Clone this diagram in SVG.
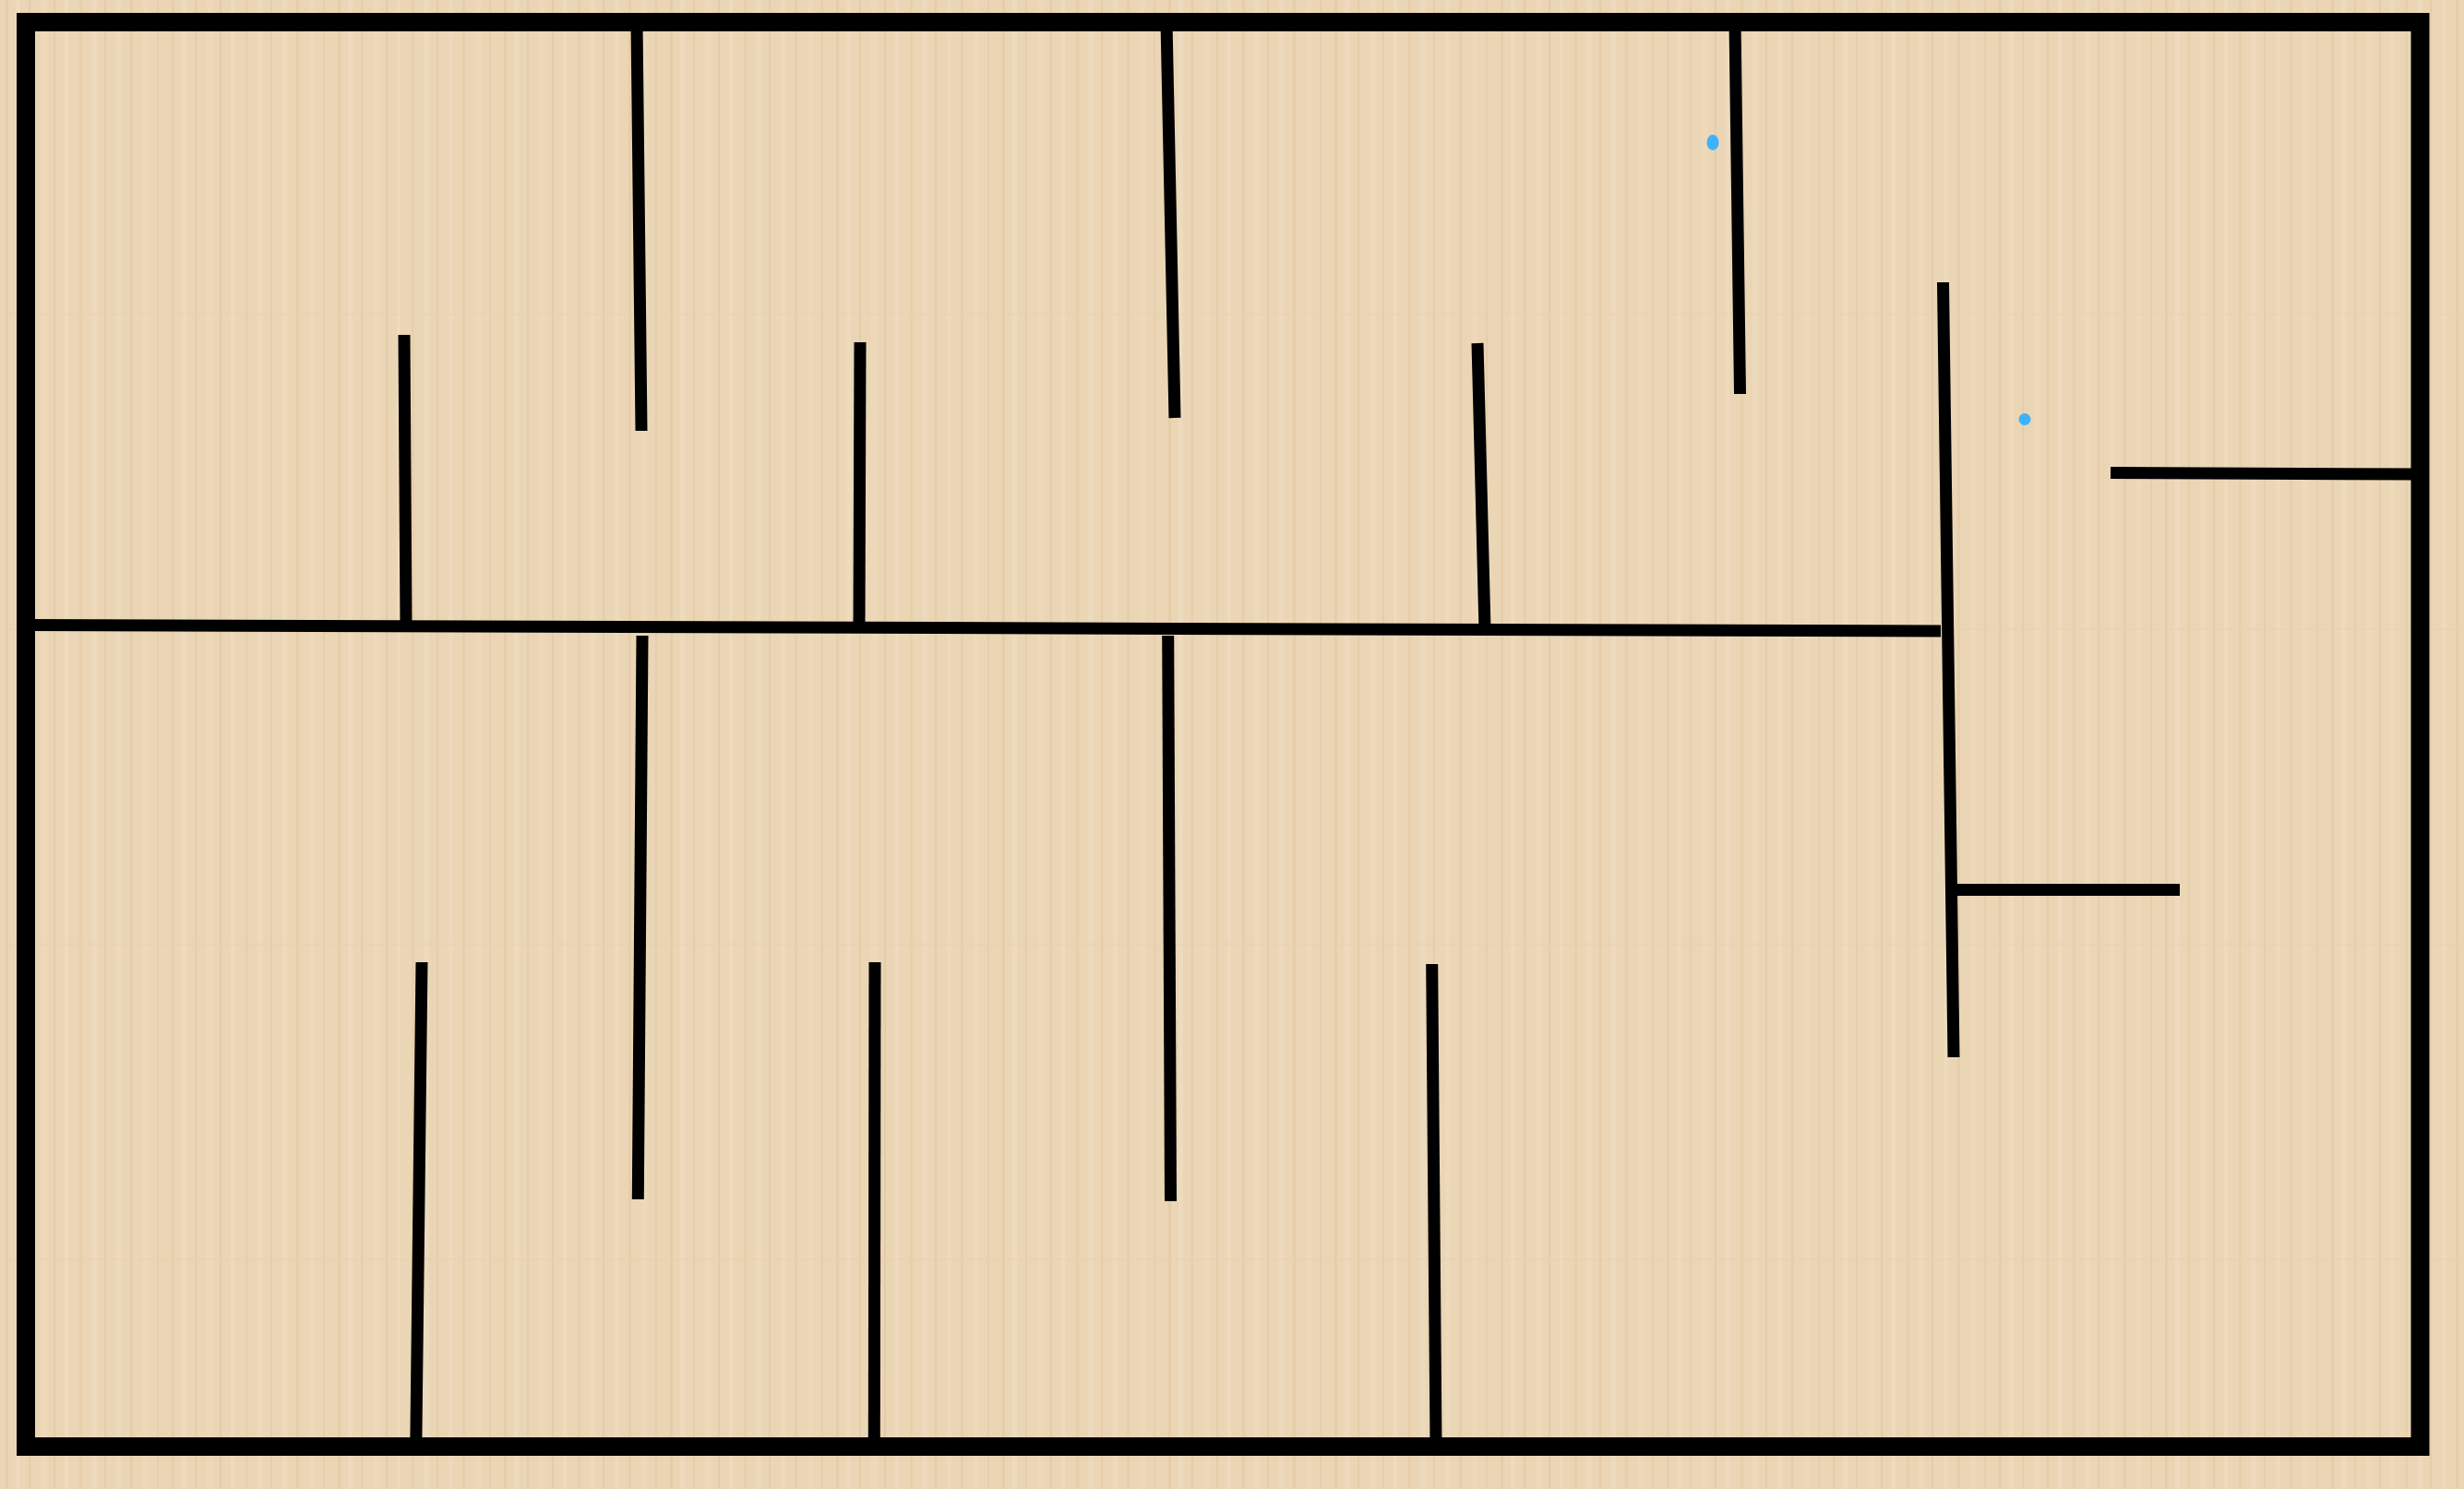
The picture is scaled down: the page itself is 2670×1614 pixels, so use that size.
<svg xmlns="http://www.w3.org/2000/svg" width="2670" height="1614" viewBox="0 0 2670 1614">
  <defs>
    <pattern id="wood" x="0" y="0" width="180" height="341.5" patternUnits="userSpaceOnUse">
      <rect width="180" height="341.5" fill="#EAD5B5"/>
      <rect x="6" width="3" height="341.5" fill="#E4CBA6" opacity="0.7"/>
      <rect x="17" width="5" height="341.5" fill="#F0DFC4" opacity="0.6"/>
      <rect x="31" width="2" height="341.5" fill="#E2C8A2" opacity="0.6"/>
      <rect x="44" width="7" height="341.5" fill="#EEDABD" opacity="0.6"/>
      <rect x="58" width="2" height="341.5" fill="#E3C9A3" opacity="0.7"/>
      <rect x="70" width="4" height="341.5" fill="#F1E0C6" opacity="0.5"/>
      <rect x="86" width="3" height="341.5" fill="#E4CBA6" opacity="0.6"/>
      <rect x="99" width="6" height="341.5" fill="#EFDCC0" opacity="0.6"/>
      <rect x="113" width="2" height="341.5" fill="#E2C7A1" opacity="0.6"/>
      <rect x="126" width="5" height="341.5" fill="#F0DEC3" opacity="0.5"/>
      <rect x="141" width="3" height="341.5" fill="#E5CCA7" opacity="0.7"/>
      <rect x="155" width="6" height="341.5" fill="#EEDABD" opacity="0.6"/>
      <rect x="170" width="2" height="341.5" fill="#E3C9A3" opacity="0.6"/>
      <rect x="0" y="339.5" width="180" height="2" fill="#E6CFAD" opacity="0.5"/>
    </pattern>
    <style>
      .wall { stroke: #000000; stroke-width: 13; stroke-linecap: butt; fill: none; }
      .frame { stroke: #000000; stroke-width: 20; fill: none; }
      .dot { fill: #3DB2FF; }
    </style>
  </defs>

  <rect id="background" x="0" y="0" width="2670" height="1614" fill="url(#wood)"/>

  <g id="maze">
    <rect id="frame" class="frame" x="28" y="24" width="2594.5" height="1544"/>
    <g id="walls">
      <line id="w1" class="wall" x1="690" y1="24" x2="695" y2="467"/>
      <line id="w2" class="wall" x1="1264" y1="24" x2="1273" y2="453"/>
      <line id="w3" class="wall" x1="1880" y1="24" x2="1885.5" y2="427"/>
      <line id="w4" class="wall" x1="438" y1="363" x2="440" y2="679"/>
      <line id="w5" class="wall" x1="932" y1="371" x2="931" y2="680"/>
      <line id="w6" class="wall" x1="1601" y1="372" x2="1609" y2="682"/>
      <line id="w7" class="wall" x1="30" y1="677.5" x2="2103" y2="684"/>
      <line id="w8" class="wall" x1="2105.5" y1="306" x2="2117" y2="1146"/>
      <line id="w9" class="wall" x1="2287" y1="512.5" x2="2620" y2="514"/>
      <line id="w10" class="wall" x1="2114" y1="964.5" x2="2362" y2="964.5"/>
      <line id="w11" class="wall" x1="696" y1="689" x2="691.3" y2="1300"/>
      <line id="w12" class="wall" x1="1265.7" y1="689" x2="1268.5" y2="1302"/>
      <line id="w13" class="wall" x1="457" y1="1043" x2="450.8" y2="1566"/>
      <line id="w14" class="wall" x1="948" y1="1043" x2="947.3" y2="1566"/>
      <line id="w15" class="wall" x1="1551.7" y1="1045" x2="1556" y2="1566"/>
    </g>
    <g id="markers">
      <ellipse id="dot1" class="dot" cx="1856" cy="154.5" rx="6.5" ry="8.5"/>
      <circle id="dot2" class="dot" cx="2194" cy="454.5" r="6.5"/>
    </g>
  </g>
</svg>
